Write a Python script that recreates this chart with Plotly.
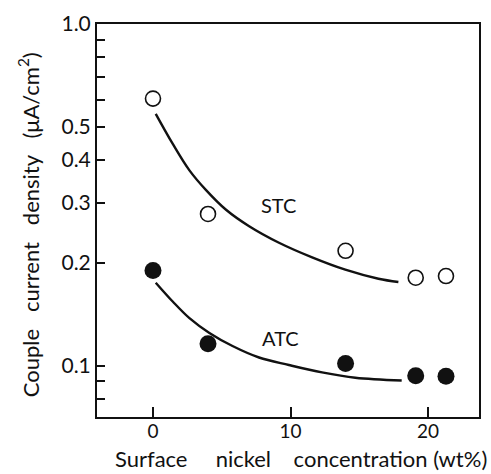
import math
import plotly.graph_objects as go

# Measured points
ni_conc = [0, 4, 14, 19.1, 21.3]
stc_vals = [0.605, 0.278, 0.217, 0.181, 0.183]
atc_vals = [0.190, 0.116, 0.1015, 0.0935, 0.0932]

# Hand-drawn fitted curves
stc_curve_x = [0.2, 1.45, 2.65, 3.86, 5.31, 6.99, 9.16, 11.57, 13.98, 16.39, 17.84]
stc_curve_y = [0.546, 0.445, 0.373, 0.3265, 0.286, 0.256, 0.229, 0.2075, 0.191, 0.1797, 0.1758]
atc_curve_x = [0.2, 1.45, 2.65, 4.1, 5.78, 7.71, 9.88, 12.29, 14.71, 18.08]
atc_curve_y = [0.175, 0.1539, 0.1378, 0.1247, 0.1142, 0.1057, 0.1005, 0.0956, 0.0922, 0.0905]

# Axis ticks
x_ticks = [0, 10, 20]
x_ticklabels = ["0", "10", "20"]
y_ticks = [0.1, 0.2, 0.3, 0.4, 0.5, 1.0]
y_ticklabels = ["0.1", "0.2", "0.3", "0.4", "0.5", "1.0"]
y_minor_ticks = [0.08, 0.09, 0.6, 0.7, 0.8, 0.9]

FONT = "Lato"
INK = "#111111"

def sp(n):
    return "&nbsp;" * n

fig = go.Figure()
fig.add_trace(go.Scatter(x=stc_curve_x, y=stc_curve_y, mode="lines",
                         line=dict(color=INK, width=2.4, shape="spline"),
                         showlegend=False, hoverinfo="skip"))
fig.add_trace(go.Scatter(x=atc_curve_x, y=atc_curve_y, mode="lines",
                         line=dict(color=INK, width=2.4, shape="spline"),
                         showlegend=False, hoverinfo="skip"))
fig.add_trace(go.Scatter(x=ni_conc, y=stc_vals, mode="markers", name="STC",
                         marker=dict(symbol="circle-open", size=15, color=INK,
                                     line=dict(width=1.6, color=INK)),
                         showlegend=False))
fig.add_trace(go.Scatter(x=ni_conc, y=atc_vals, mode="markers", name="ATC",
                         marker=dict(symbol="circle", size=17, color=INK),
                         showlegend=False))

pw = 491 - 97 - 10
ph = 474 - 18 - 57

def px_x(px):
    return (px - 97) / pw

def px_y(py_top):
    return (474 - py_top - 57) / ph

fig.update_layout(
    width=491, height=474,
    margin=dict(l=97, r=10, t=18, b=57),
    paper_bgcolor="white", plot_bgcolor="white",
    font=dict(family=FONT, color=INK, size=19),
    xaxis=dict(range=[-4.07, 23.7], tickvals=x_ticks, ticktext=x_ticklabels,
               ticks="inside", ticklen=10, tickwidth=1.5, tickcolor=INK,
               showline=True, linecolor=INK, linewidth=2, mirror=True,
               showgrid=False, zeroline=False, tickfont=dict(size=19),
               ticklabelstandoff=-4),
    yaxis=dict(type="log", range=[-1.15, 0], tickvals=y_ticks, ticktext=y_ticklabels,
               ticks="inside", ticklen=8, tickwidth=1.5, tickcolor=INK,
               minor=dict(tickvals=y_minor_ticks, ticks="inside", ticklen=8,
                          tickwidth=1.5, tickcolor=INK, showgrid=False),
               showline=True, linecolor=INK, linewidth=2, mirror=True,
               showgrid=False, zeroline=False, tickfont=dict(size=21)),
    annotations=[
        dict(x=9.1, y=math.log10(0.295), xref="x", yref="y", text="STC",
             showarrow=False, font=dict(size=20, family=FONT, color=INK)),
        dict(x=9.3, y=math.log10(0.1206), xref="x", yref="y", text="ATC",
             showarrow=False, font=dict(size=20, family=FONT, color=INK)),
        dict(x=px_x(302), y=px_y(459), xref="paper", yref="paper",
             xanchor="center", yanchor="middle",
             text="Surface" + sp(5) + "nickel" + sp(4) + "concentration (wt%)",
             showarrow=False, font=dict(size=22, family=FONT, color=INK)),
        dict(x=px_x(29), y=px_y(222), xref="paper", yref="paper",
             xanchor="center", yanchor="middle",
             text="Couple" + sp(3) + "current" + sp(3) + "density" + sp(3) + "(μA/cm<sup>2</sup>)",
             textangle=-90, showarrow=False, font=dict(size=22, family=FONT, color=INK)),
    ],
)

fig.write_html("out.html")
